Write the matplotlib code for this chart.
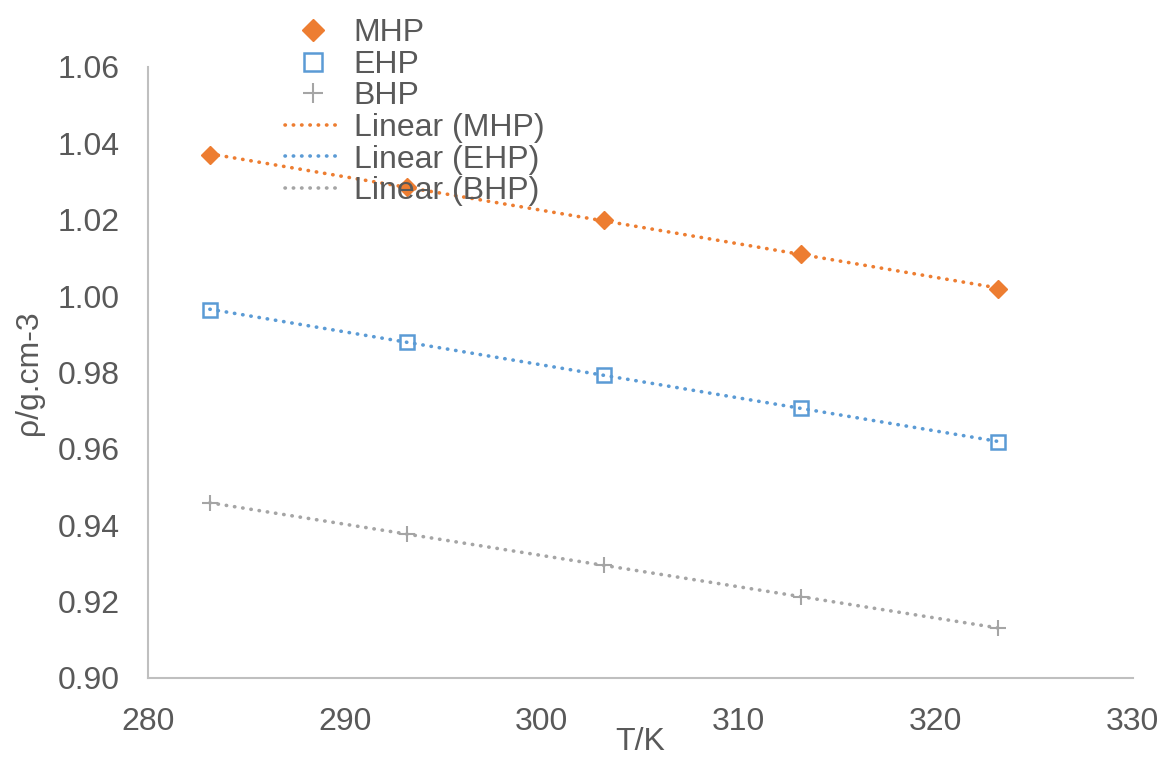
import numpy as np
import matplotlib.pyplot as plt

plt.rcParams['font.family'] = ['Liberation Sans', 'DejaVu Sans']

# Data
T = [283.15, 293.15, 303.15, 313.15, 323.15]
mhp = [1.0370, 1.0286, 1.0199, 1.0110, 1.0019]
ehp = [0.9964, 0.9880, 0.9793, 0.9707, 0.9618]
bhp = [0.9458, 0.9377, 0.9296, 0.9212, 0.9131]

names = ["MHP", "EHP", "BHP"]
colors = ["#ED7D31", "#5B9BD5", "#A5A5A5"]
text_color = "#595959"
spine_color = "#BFBFBF"

fig = plt.figure(figsize=(11.64, 7.6), dpi=100)
ax = fig.add_axes([0.127, 0.108, 0.846, 0.804])

# Markers
ax.plot(T, mhp, linestyle="none", marker="D", markersize=9,
        color=colors[0], label="MHP")
ax.plot(T, ehp, linestyle="none", marker="s", markersize=10,
        markerfacecolor="none", markeredgecolor=colors[1], markeredgewidth=1.8, label="EHP")
ax.plot(T, bhp, linestyle="none", marker="+", markersize=11,
        color=colors[2], markeredgewidth=1.5, label="BHP")

# Linear trendlines
x = np.array(T)
for name, vals, c in zip(names, [mhp, ehp, bhp], colors):
    k, b = np.polyfit(x, vals, 1)
    ax.plot(x, k * x + b, color=c, linewidth=2.6, linestyle=(0, (0.1, 2.2)),
            dash_capstyle="round", label=f"Linear ({name})", zorder=1)

ax.set_xlim(280, 330)
ax.set_ylim(0.90, 1.06)
ax.set_xticks(np.arange(280, 331, 10))
ax.set_yticks(np.arange(0.90, 1.0601, 0.02))
ax.set_yticklabels([f"{v:.2f}" for v in np.arange(0.90, 1.0601, 0.02)])

for s in ["top", "right"]:
    ax.spines[s].set_visible(False)
for s in ["left", "bottom"]:
    ax.spines[s].set_color(spine_color)
    ax.spines[s].set_linewidth(1.5)

ax.tick_params(length=0, labelsize=23, colors=text_color)
ax.tick_params(axis="y", pad=20)
ax.tick_params(axis="x", pad=21)
ax.set_xlabel("T/K", fontsize=23, color=text_color, labelpad=-7)
ax.set_ylabel("ρ/g.cm-3", fontsize=23, color=text_color, labelpad=10)

leg = ax.legend(loc="upper left", bbox_to_anchor=(0.245, 0.976), bbox_transform=fig.transFigure,
                frameon=False, fontsize=23, labelspacing=0.05, handlelength=1.75,
                handletextpad=0.4, borderpad=0, borderaxespad=0, markerscale=1.3)
for t in leg.get_texts():
    t.set_color(text_color)

fig.savefig("out.png", dpi=100)
